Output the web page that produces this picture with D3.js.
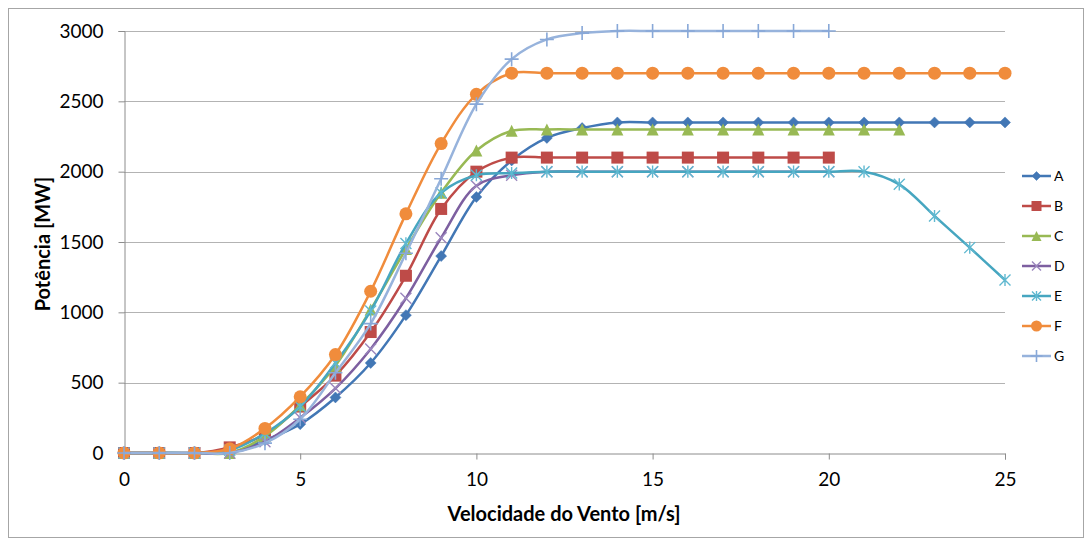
<!DOCTYPE html>
<html>
<head>
<meta charset="utf-8">
<script src="https://cdn.jsdelivr.net/npm/d3@7"></script>
<style>
  html, body { margin: 0; padding: 0; background: #fff; }
  svg { display: block; font-family: Lato, "Open Sans", sans-serif; }
</style>
</head>
<body>
<svg id="chart" width="1092" height="541"></svg>
<script>
// Wind speed (m/s) at which each power value is given
const windSpeed = [0,1,2,3,4,5,6,7,8,9,10,11,12,13,14,15,16,17,18,19,20,21,22,23,24,25];

// Power output (MW) per series, starting at 0 m/s
const seriesA = [0,0,0,0,90,205,395,640,980,1400,1820,2080,2240,2310,2350,2350,2350,2350,2350,2350,2350,2350,2350,2350,2350,2350];
const seriesB = [0,0,0,40,130,330,550,860,1260,1735,2000,2100,2100,2100,2100,2100,2100,2100,2100,2100,2100];
const seriesC = [0,0,0,0,120,340,620,1020,1450,1850,2150,2290,2300,2300,2300,2300,2300,2300,2300,2300,2300,2300,2300];
const seriesD = [0,0,0,0,80,250,460,740,1100,1530,1900,1975,2000,2000,2000,2000,2000,2000,2000,2000,2000];
const seriesE = [0,0,0,20,140,330,640,1010,1490,1850,1975,1990,2000,2000,2000,2000,2000,2000,2000,2000,2000,2000,1910,1685,1460,1230];
const seriesF = [0,0,0,30,175,400,700,1150,1700,2200,2550,2700,2700,2700,2700,2700,2700,2700,2700,2700,2700,2700,2700,2700,2700,2700];
const seriesG = [0,0,0,0,70,240,570,920,1420,1950,2480,2800,2940,2985,3000,3000,3000,3000,3000,3000,3000];

const seriesNames = ["A","B","C","D","E","F","G"];
const seriesValues = [seriesA, seriesB, seriesC, seriesD, seriesE, seriesF, seriesG];
const seriesColors = ["#4277b5","#be4b48","#98b954","#7d5fa0","#46a6c0","#f08c3c","#97b3dc"];
const seriesMarkers = ["diamond","square","triangle","x","asterisk","circle","plus"];

const xTicks = [0,5,10,15,20,25];
const yTicks = [0,500,1000,1500,2000,2500,3000];

const svg = d3.select("#chart");
const W = 1092, H = 541;
const plot = { left: 124, right: 1005, top: 31, bottom: 453 };

// outer chart frame
svg.append("rect")
  .attr("x", 8.5).attr("y", 8.5)
  .attr("width", W - 17).attr("height", H - 12)
  .attr("fill", "#fff").attr("stroke", "#a6a6a6").attr("stroke-width", 1);

const x = d3.scaleLinear().domain([0, 25]).range([plot.left, plot.right]);
const y = d3.scaleLinear().domain([0, 3000]).range([plot.bottom, plot.top]);

// horizontal gridlines
svg.append("g")
  .selectAll("line")
  .data(yTicks.filter(v => v > 0))
  .join("line")
  .attr("x1", plot.left).attr("x2", plot.right)
  .attr("y1", d => Math.round(y(d)) + 0.5).attr("y2", d => Math.round(y(d)) + 0.5)
  .attr("stroke", "#b3b3b3").attr("stroke-width", 1);

// y axis
const yAxis = svg.append("g")
  .attr("transform", `translate(${plot.left + 0.5},0)`)
  .call(d3.axisLeft(y).tickValues(yTicks).tickSize(6).tickPadding(15).tickFormat(d3.format("d")));
yAxis.select(".domain").attr("stroke", "#8c8c8c");
yAxis.selectAll(".tick line").attr("stroke", "#8c8c8c");
yAxis.selectAll(".tick text").attr("font-size", 19).attr("fill", "#000")
  .attr("font-family", "Lato, 'Open Sans', sans-serif");

// x axis
const xAxis = svg.append("g")
  .attr("transform", `translate(0,${plot.bottom + 0.5})`)
  .call(d3.axisBottom(x).tickValues(xTicks).tickSize(6).tickPadding(13));
xAxis.select(".domain").attr("stroke", "#8c8c8c");
xAxis.selectAll(".tick line").attr("stroke", "#8c8c8c");
xAxis.selectAll(".tick text").attr("font-size", 19).attr("fill", "#000")
  .attr("font-family", "Lato, 'Open Sans', sans-serif");

// axis titles
svg.append("text")
  .attr("x", 564).attr("y", 521)
  .attr("text-anchor", "middle")
  .attr("font-size", 20).attr("font-weight", "bold")
  .text("Velocidade do Vento [m/s]");

svg.append("text")
  .attr("transform", `translate(50,244) rotate(-90)`)
  .attr("text-anchor", "middle")
  .attr("font-size", 20).attr("font-weight", "bold")
  .text("Potência [MW]");

// marker painter
function drawMarker(g, type, color, cx, cy, s) {
  const r = s / 2;
  if (type === "diamond") {
    g.append("path").attr("d", `M${cx},${cy - r}L${cx + r},${cy}L${cx},${cy + r}L${cx - r},${cy}Z`)
      .attr("fill", color).attr("stroke", color).attr("stroke-width", 0.5);
  } else if (type === "square") {
    g.append("rect").attr("x", cx - r).attr("y", cy - r).attr("width", s).attr("height", s)
      .attr("fill", color);
  } else if (type === "triangle") {
    g.append("path").attr("d", `M${cx},${cy - r}L${cx + r},${cy + r}L${cx - r},${cy + r}Z`)
      .attr("fill", color);
  } else if (type === "circle") {
    g.append("circle").attr("cx", cx).attr("cy", cy).attr("r", r).attr("fill", color);
  } else if (type === "x") {
    g.append("path").attr("d", `M${cx - r},${cy - r}L${cx + r},${cy + r}M${cx - r},${cy + r}L${cx + r},${cy - r}`)
      .attr("stroke", color).attr("stroke-width", 1.4).attr("fill", "none");
  } else if (type === "asterisk") {
    g.append("path").attr("d", `M${cx - r},${cy - r}L${cx + r},${cy + r}M${cx - r},${cy + r}L${cx + r},${cy - r}M${cx},${cy - r * 1.1}L${cx},${cy + r * 1.1}`)
      .attr("stroke", color).attr("stroke-width", 1.4).attr("fill", "none");
  } else if (type === "plus") {
    g.append("path").attr("d", `M${cx - r},${cy}L${cx + r},${cy}M${cx},${cy - r}L${cx},${cy + r}`)
      .attr("stroke", color).attr("stroke-width", 1.6).attr("fill", "none");
  }
}

const markerSize = { diamond: 11, square: 12, triangle: 12, circle: 13, x: 11, asterisk: 11, plus: 14 };
const markerColors = ["#4277b5","#be4b48","#98b954","#9a86bd","#5fb8d0","#f08c3c","#88a8d8"];

const line = d3.line()
  .x(d => x(d[0]))
  .y(d => y(d[1]))
  .curve(d3.curveCatmullRom.alpha(0.5));

const series = svg.append("g");
seriesValues.forEach((vals, i) => {
  const pts = vals.map((v, k) => [windSpeed[k], v]);
  const g = series.append("g");
  g.append("path").datum(pts)
    .attr("d", line)
    .attr("fill", "none")
    .attr("stroke", seriesColors[i])
    .attr("stroke-width", 2.5)
    .attr("stroke-linejoin", "round");
  pts.forEach(p => drawMarker(g, seriesMarkers[i], markerColors[i], x(p[0]), y(p[1]), markerSize[seriesMarkers[i]]));
});

// legend
const legend = svg.append("g");
seriesNames.forEach((name, i) => {
  const ly = 176 + i * 30;
  legend.append("line")
    .attr("x1", 1022).attr("x2", 1051).attr("y1", ly).attr("y2", ly)
    .attr("stroke", seriesColors[i]).attr("stroke-width", 2.5);
  drawMarker(legend, seriesMarkers[i], markerColors[i], 1036.5, ly, markerSize[seriesMarkers[i]] - 2);
  legend.append("text")
    .attr("x", 1054).attr("y", ly + 5)
    .attr("font-size", 14)
    .text(name);
});
</script>
</body>
</html>
